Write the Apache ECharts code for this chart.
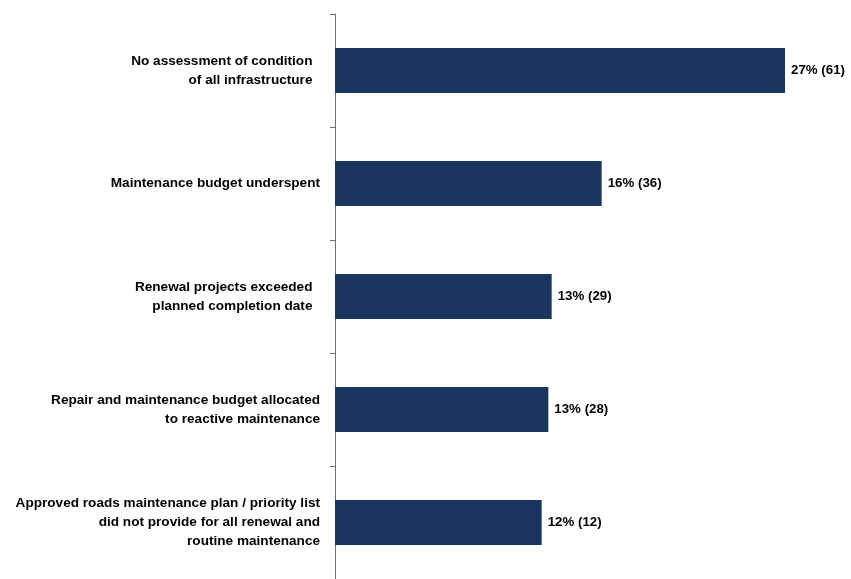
<!DOCTYPE html>
<html>
<head>
<meta charset="utf-8">
<script src="https://cdn.jsdelivr.net/npm/echarts@6/dist/echarts.min.js"></script>
<style>
  html, body { margin: 0; padding: 0; background: #fff; }
  #chart-container { width: 851px; height: 579px; }
</style>
</head>
<body>
<div id="chart-container"></div>
<script>
var barColor = "#1a365e";
var axisColor = "#6f6f6f";

// categories, top to bottom
var categories = [
  "No assessment of condition  \nof all infrastructure  ",
  "Maintenance budget underspent",
  "Renewal projects exceeded  \nplanned completion date  ",
  "Repair and maintenance budget allocated\nto reactive maintenance",
  "Approved roads maintenance plan / priority list\ndid not provide for all renewal and\nroutine maintenance"
];
// share of findings (%)
var percents = [27, 16, 13, 12.8, 12.4];
// number of cases shown in brackets
var counts = [61, 36, 29, 28, 12];

var dom = document.getElementById("chart-container");
var myChart = echarts.init(dom);

var option = {
  animation: false,
  grid: {
    left: 335,
    right: 16,
    top: 14,
    height: 570,
    containLabel: false
  },
  xAxis: {
    type: "value",
    min: 0,
    max: 30,
    show: false
  },
  yAxis: {
    type: "category",
    inverse: true,
    data: categories,
    axisLine: { show: true, lineStyle: { color: axisColor, width: 1 } },
    axisTick: { show: true, length: 5, lineStyle: { color: axisColor } },
    axisLabel: {
      margin: 15,
      color: "#000",
      fontFamily: "Liberation Sans, Arial, sans-serif",
      fontWeight: "bold",
      fontSize: 13.6,
      lineHeight: 19,
      align: "right"
    }
  },
  series: [
    {
      type: "bar",
      data: percents,
      barWidth: 45,
      itemStyle: { color: barColor },
      label: {
        show: true,
        position: "right",
        distance: 6,
        color: "#000",
        fontFamily: "Liberation Sans, Arial, sans-serif",
        fontWeight: "bold",
        fontSize: 13.3,
        formatter: function (p) {
          return Math.round(p.value) + "% (" + counts[p.dataIndex] + ")";
        }
      }
    }
  ]
};

myChart.setOption(option);
</script>
</body>
</html>
